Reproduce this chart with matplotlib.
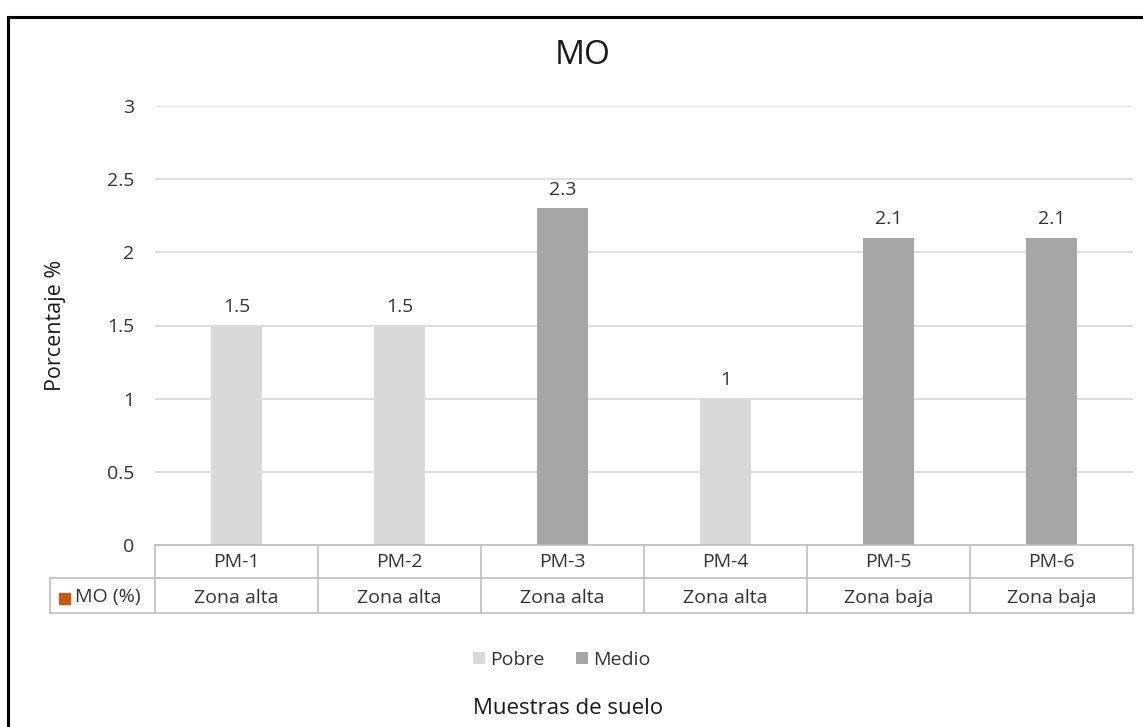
import matplotlib
matplotlib.use("Agg")
import matplotlib.pyplot as plt
from matplotlib.patches import Rectangle, Patch
from matplotlib.lines import Line2D

plt.rcParams['font.family'] = ['Open Sans', 'DejaVu Sans']

samples = ["PM-1", "PM-2", "PM-3", "PM-4", "PM-5", "PM-6"]
zones = ["Zona alta", "Zona alta", "Zona alta", "Zona alta", "Zona baja", "Zona baja"]
values = [1.5, 1.5, 2.3, 1.0, 2.1, 2.1]
classes = ["Pobre", "Pobre", "Medio", "Pobre", "Medio", "Medio"]
class_colors = {"Pobre": "#d9d9d9", "Medio": "#a6a6a6"}
yticks = [0, 0.5, 1, 1.5, 2, 2.5, 3]

W, H = 1143, 727
fs = 14
tc = "#333333"
fig = plt.figure(figsize=(W / 100, H / 100), dpi=100)
ax = fig.add_axes([155 / W, 1 - 545 / H, (1133 - 155) / W, (545 - 106) / H])

x = list(range(len(samples)))
ax.bar(x, values, width=0.31, color=[class_colors[c] for c in classes], zorder=3)
for xi, v in zip(x, values):
    ax.text(xi, v + 0.065, f"{v:g}", ha="center", va="bottom", fontsize=fs, color=tc)

ax.set_xlim(-0.5, len(samples) - 0.5)
ax.set_ylim(0, 3)
ax.set_yticks(yticks)
ax.set_yticklabels([f"{t:g}" for t in yticks])
ax.tick_params(axis="y", length=0, pad=15, labelsize=fs, labelcolor=tc)
ax.tick_params(axis="x", length=0, labelbottom=False)
ax.grid(axis="y", color="#d9d9d9", linewidth=1.2, zorder=0)
for s in ax.spines.values():
    s.set_visible(False)

gc = "#bfbfbf"
def fx(px):
    return px / W
def fy(py):
    return 1 - py / H
lines = []
lines.append(Line2D([fx(155), fx(1133)], [fy(545), fy(545)]))
lines.append(Line2D([fx(50), fx(1133)], [fy(578), fy(578)]))
lines.append(Line2D([fx(50), fx(1133)], [fy(613), fy(613)]))
lines.append(Line2D([fx(50), fx(50)], [fy(578), fy(613)]))
col_w = (1133 - 155) / len(samples)
for i in range(len(samples) + 1):
    xp = 155 + i * col_w
    lines.append(Line2D([fx(xp), fx(xp)], [fy(545), fy(613)]))
for l in lines:
    l.set_color(gc)
    l.set_linewidth(1.2)
    fig.add_artist(l)

for i, (s, z) in enumerate(zip(samples, zones)):
    fig.text(fx(155 + (i + 0.5) * col_w), fy(562), s, ha="center", va="center", fontsize=fs, color=tc)
    fig.text(fx(155 + (i + 0.5) * col_w), fy(598), z, ha="center", va="center", fontsize=fs, color=tc)

fig.add_artist(Rectangle((fx(59), fy(604)), 11 / W, 11 / H, transform=fig.transFigure, color="#c55a11"))
fig.text(fx(75), fy(597), "MO (%)", ha="left", va="center", fontsize=fs, color=tc)

fig.text(fx(583), fy(55), "MO", ha="center", va="center", fontsize=24, color="#1a1a1a")
fig.text(fx(55), fy(325), "Porcentaje %", rotation=90, ha="center", va="center", fontsize=15.5, color="#1a1a1a")
fig.text(fx(568), fy(708), "Muestras de suelo", ha="center", va="center", fontsize=16, color="#1a1a1a")

handles = [Patch(facecolor=class_colors["Pobre"], label="Pobre"),
           Patch(facecolor=class_colors["Medio"], label="Medio")]
fig.legend(handles=handles, loc="center", bbox_to_anchor=(fx(562), fy(660)), ncol=2, frameon=False,
           fontsize=fs, handlelength=0.6, handleheight=0.6, handletextpad=0.3, columnspacing=1.6,
           labelcolor=tc)

fig.add_artist(Rectangle((fx(8), fy(740)), 1.2, (740 - 17) / H, transform=fig.transFigure,
                         fill=False, edgecolor="black", linewidth=2.2))

fig.savefig("out.png", dpi=100)
